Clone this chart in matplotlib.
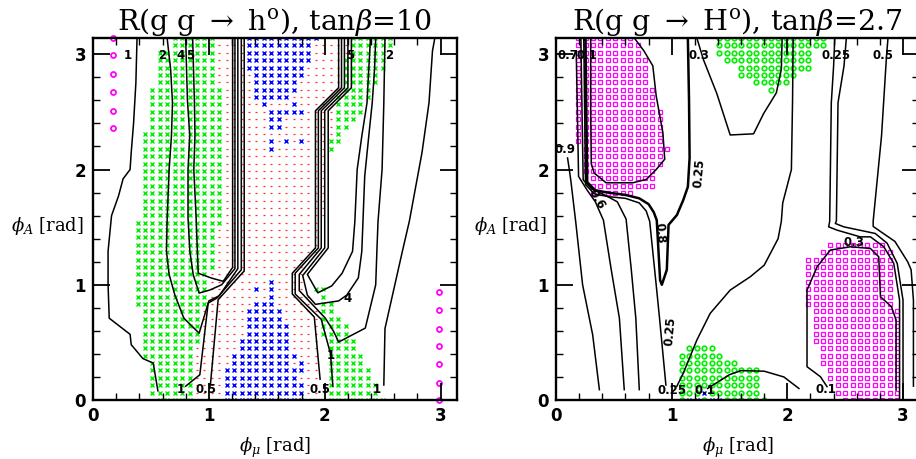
import numpy as np
import matplotlib
matplotlib.use("Agg")
import matplotlib.pyplot as plt
from matplotlib.ticker import MultipleLocator

plt.rcParams['mathtext.fontset'] = 'dejavuserif'

# scan grid step (both angles run 0..pi)
STEP = np.pi / 49

# ---------------- left panel: R(gg->h0), tanb=10 ----------------
# blocks of grid cells: (row_lo, row_hi, col_lo, col_hi)
left_green_blocks = [
    (48, 49, 11, 16), (43, 47, 9, 16), (37, 42, 8, 17), (25, 36, 7, 17),
    (24, 24, 6, 17), (18, 23, 6, 16), (13, 17, 6, 15), (8, 12, 7, 14),
    (6, 7, 7, 13), (1, 5, 8, 13), (0, 0, 9, 13),
    (48, 49, 35, 40), (47, 47, 35, 39), (45, 46, 34, 39), (43, 44, 34, 38),
    (42, 42, 34, 37), (41, 41, 33, 37), (39, 40, 33, 36), (38, 38, 33, 35),
    (37, 37, 33, 34), (36, 36, 33, 33), (35, 35, 32, 33), (34, 34, 32, 32),
    (15, 15, 30, 31), (14, 14, 31, 31), (12, 13, 31, 32), (11, 11, 31, 33),
    (9, 10, 31, 34), (7, 8, 32, 35), (5, 6, 32, 36), (3, 4, 32, 37),
    (1, 2, 32, 38), (0, 0, 32, 39),
]
left_blue_blocks = [
    (49, 49, 21, 30), (46, 48, 21, 29), (45, 45, 21, 28), (44, 44, 22, 28),
    (42, 43, 22, 27), (41, 41, 22, 26), (40, 40, 23, 23), (40, 40, 27, 27),
    (39, 39, 24, 28), (37, 38, 24, 25), (35, 35, 24, 24), (35, 35, 26, 26),
    (35, 35, 28, 28), (34, 34, 24, 24),
    (16, 16, 24, 24), (15, 15, 22, 22), (15, 15, 24, 24), (14, 14, 24, 24),
    (13, 13, 22, 24), (11, 12, 21, 25), (9, 10, 21, 26), (7, 8, 20, 26),
    (6, 6, 19, 27), (5, 5, 19, 26), (5, 5, 28, 28), (4, 4, 18, 28),
    (3, 3, 18, 27), (0, 2, 18, 28),
]
left_red_blocks = [
    (47, 49, 17, 34), (43, 46, 17, 33), (42, 42, 18, 33), (36, 41, 18, 32),
    (25, 35, 18, 31), (24, 24, 18, 30), (20, 23, 17, 30), (18, 19, 17, 28),
    (15, 17, 16, 28), (13, 14, 16, 29), (8, 12, 15, 30), (0, 7, 14, 30),
]
left_mag_x = [0.17, 0.17, 0.17, 0.17, 0.17, 0.17, 2.99, 2.99, 2.99, 2.99, 2.99, 2.99, 2.99]
left_mag_y = [3.14, 2.99, 2.83, 2.67, 2.51, 2.36, 0.94, 0.78, 0.62, 0.47, 0.31, 0.15, 0.0]

# contour lines (phi_mu, phi_A)
l_c1_outer = [(0.38, 3.14), (0.37, 2.75), (0.35, 2.4), (0.33, 2.15), (0.32, 2.0), (0.26, 1.92),
              (0.22, 1.77), (0.16, 1.60), (0.13, 1.29), (0.13, 1.0), (0.14, 0.71), (0.32, 0.57),
              (0.33, 0.48), (0.43, 0.36), (0.52, 0.32), (0.56, 0.08)]
l_c2_left = [(0.64, 3.14), (0.67, 2.87), (0.686, 2.58), (0.677, 2.29), (0.657, 2.0), (0.64, 1.57),
             (0.634, 1.29), (0.657, 1.09), (0.706, 0.913), (0.784, 0.71), (0.916, 0.58),
             (1.0, 0.86), (1.09, 0.905), (1.25, 1.14), (1.25, 3.14)]
l_c4_left = [(0.80, 3.14), (0.815, 2.6), (0.835, 2.3), (0.82, 2.0), (0.82, 1.58), (0.836, 1.29),
             (0.865, 1.087), (0.916, 0.928), (1.01, 0.955), (1.11, 1.0), (1.225, 1.14), (1.225, 3.14)]
l_c5_left = [(0.86, 3.14), (0.875, 2.6), (0.88, 2.3), (0.87, 2.0), (0.89, 1.58), (0.908, 1.10),
             (1.023, 1.058), (1.124, 1.03), (1.205, 1.15), (1.205, 3.14)]
l_c1_mid = [(0.80, 0.12), (0.922, 0.219), (0.994, 0.841), (1.07, 0.885), (1.28, 1.13), (1.28, 3.14)]
l_c05_left = [(1.014, 0.14), (1.08, 0.87), (1.305, 1.12), (1.305, 3.14)]
l_c05_right = [(2.12, 3.14), (2.12, 2.71), (1.92, 2.51), (1.92, 1.32), (1.72, 1.10), (1.72, 0.92),
               (1.91, 0.72), (1.96, 0.18)]
l_c1_right = [(2.145, 3.14), (2.145, 2.71), (1.945, 2.51), (1.945, 1.32), (1.745, 1.10),
              (1.745, 0.92), (1.97, 0.70), (2.05, 0.40), (2.07, 0.12)]
l_c2_right = [(2.17, 3.14), (2.17, 2.71), (1.97, 2.51), (1.97, 1.32), (1.78, 1.09), (1.78, 0.95),
              (2.005, 0.71), (2.077, 0.595), (2.12, 0.503), (2.35, 0.624), (2.44, 1.0),
              (2.45, 1.29), (2.46, 1.55), (2.495, 2.0), (2.51, 2.58), (2.52, 3.14)]
l_c4_right = [(2.20, 3.14), (2.20, 2.71), (2.0, 2.51), (2.0, 1.32), (1.81, 1.08), (1.85, 0.91),
              (1.92, 0.83), (2.12, 0.86), (2.19, 0.91), (2.29, 1.06), (2.32, 1.29), (2.33, 1.55),
              (2.345, 1.94), (2.38, 2.29), (2.41, 2.58), (2.43, 2.87), (2.44, 3.14)]
l_c5_right = [(2.23, 3.14), (2.23, 2.71), (2.03, 2.51), (2.03, 1.32), (1.85, 1.09), (1.94, 0.93),
              (2.06, 0.99), (2.15, 1.10), (2.24, 1.29), (2.26, 1.55), (2.28, 2.0), (2.32, 2.29),
              (2.365, 2.58), (2.38, 2.87), (2.395, 3.14)]
l_c1_far = [(2.95, 3.14), (2.93, 3.03), (2.90, 2.58), (2.84, 2.15), (2.73, 1.55), (2.67, 1.29),
            (2.52, 0.62), (2.51, 0.13)]
left_lines = [l_c1_outer, l_c2_left, l_c4_left, l_c5_left, l_c1_mid, l_c05_left,
              l_c05_right, l_c1_right, l_c2_right, l_c4_right, l_c5_right, l_c1_far]

left_lab_text = ["1", "2", "4", "5", "5", "2", "4", "1", "1", "0.5", "1", "0.5"]
left_lab_x = [0.30, 0.60, 0.755, 0.835, 2.22, 2.555, 2.20, 2.05, 2.45, 1.96, 0.755, 0.975]
left_lab_y = [2.99, 2.99, 2.99, 2.99, 2.99, 2.99, 0.88, 0.39, 0.09, 0.09, 0.09, 0.09]

# ---------------- right panel: R(gg->H0), tanb=2.7 ----------------
right_sq_blocks = [
    (49, 49, 3, 10), (47, 48, 3, 11), (43, 46, 3, 12), (40, 42, 3, 13),
    (35, 39, 3, 14), (34, 34, 4, 15), (32, 33, 4, 14), (31, 31, 4, 13),
    (29, 30, 5, 13), (28, 28, 5, 10),
    (21, 21, 37, 44), (20, 20, 36, 45), (13, 19, 34, 45), (8, 12, 35, 46),
    (5, 7, 36, 46), (3, 4, 37, 46), (1, 2, 38, 46), (0, 0, 39, 46),
]
right_green_blocks = [
    (48, 49, 22, 36), (47, 47, 22, 34), (46, 46, 23, 34), (45, 45, 25, 34),
    (44, 44, 25, 32), (43, 43, 27, 31), (42, 42, 29, 29),
    (7, 7, 18, 21), (6, 6, 17, 22), (5, 5, 17, 24), (1, 4, 17, 27), (0, 0, 17, 28),
]
right_blue_blocks = [(0, 0, 18, 19), (0, 0, 21, 22), (1, 1, 20, 20)]

r_p = [(0.10, 2.10), (0.115, 2.0), (0.13, 1.89), (0.17, 1.55), (0.23, 1.0), (0.317, 0.566), (0.375, 0.09)]
r_q = [(0.175, 3.03), (0.185, 2.5), (0.195, 1.94), (0.27, 1.82), (0.34, 1.72), (0.41, 1.56),
       (0.476, 1.14), (0.548, 0.71), (0.59, 0.09)]
r_r = [(0.215, 3.14), (0.225, 2.5), (0.235, 1.91), (0.31, 1.83), (0.42, 1.78), (0.53, 1.72),
       (0.606, 1.57), (0.65, 1.14), (0.69, 0.71), (0.72, 0.09)]
r_s = [(0.255, 3.14), (0.262, 2.5), (0.27, 1.89), (0.34, 1.82), (0.45, 1.80), (0.60, 1.78),
       (0.72, 1.75), (0.80, 1.70), (0.845, 1.63), (0.871, 1.56), (0.90, 1.04), (0.915, 1.0),
       (0.958, 1.13), (0.973, 1.52), (1.045, 1.605), (1.10, 1.735), (1.14, 1.85), (1.155, 2.1),
       (1.15, 2.6), (1.14, 3.14)]
r_s2 = [(0.24, 3.14), (0.248, 2.5), (0.255, 1.87), (0.33, 1.79), (0.45, 1.765), (0.60, 1.75),
        (0.72, 1.71), (0.78, 1.64), (0.81, 1.55), (0.866, 1.0), (0.895, 0.71), (0.95, 0.13)]
r_reg1 = [(0.30, 3.14), (0.30, 2.5), (0.305, 2.05), (0.33, 1.97), (0.433, 1.885), (0.664, 1.885),
          (0.78, 1.914), (0.866, 2.0), (0.94, 2.09), (0.924, 2.32), (0.866, 2.64), (0.837, 2.90),
          (0.76, 3.03), (0.678, 3.14)]
r_u03 = [(1.218, 3.14), (1.276, 2.95), (1.39, 2.66), (1.506, 2.30), (1.708, 2.31), (1.795, 2.486),
         (1.905, 2.666), (1.948, 2.87), (1.955, 3.14)]
r_l025 = [(2.05, 3.14), (2.045, 2.6), (2.035, 2.0), (1.96, 1.71), (1.948, 1.55), (1.92, 1.40),
          (1.80, 1.17), (1.68, 1.07), (1.506, 0.954), (1.333, 0.752), (1.218, 0.521),
          (1.10, 0.232), (1.045, 0.12)]
r_l01 = [(1.31, 0.10), (1.385, 0.147), (1.50, 0.22), (1.60, 0.255), (1.80, 0.25), (1.97, 0.20), (2.10, 0.10)]
r_a1 = [(2.41, 3.14), (2.40, 2.9), (2.38, 2.58), (2.366, 1.55), (2.357, 1.503), (2.43, 1.474),
        (2.63, 1.416), (2.718, 1.416), (2.834, 1.33), (2.92, 1.185), (2.97, 0.867), (2.97, 0.0)]
r_a2 = [(2.51, 3.14), (2.49, 2.9), (2.438, 2.58), (2.424, 1.553), (2.415, 1.532), (2.487, 1.503),
        (2.69, 1.46), (2.76, 1.445), (2.863, 1.36), (2.95, 1.185), (3.0, 0.867), (3.0, 0.0)]
r_l05 = [(2.87, 3.14), (2.857, 2.98), (2.814, 2.29), (2.742, 1.553), (2.742, 1.506), (2.93, 1.376),
         (3.04, 1.2), (3.07, 1.13), (3.09, 0.867), (3.09, 0.12)]
r_reg2 = [(2.343, 0.116), (2.286, 0.202), (2.17, 0.289), (2.17, 0.954), (2.257, 1.156),
          (2.372, 1.301), (2.545, 1.33), (2.718, 1.315), (2.79, 1.243), (2.805, 0.896),
          (2.90, 0.81), (2.94, 0.694), (2.94, 0.087)]
right_lines = [r_p, r_q, r_r, r_s2, r_reg1, r_u03, r_l025, r_l01, r_a1, r_a2, r_l05, r_reg2]

right_lab_text = ["0.7", "0.1", "0.3", "0.25", "0.5", "0.9", "0.3", "0.25", "0.1", "0.1"]
right_lab_x = [0.10, 0.265, 1.24, 2.42, 2.83, 0.08, 2.574, 1.0, 1.29, 2.33]
right_lab_y = [2.99, 2.99, 2.99, 2.99, 2.99, 2.17, 1.37, 0.08, 0.08, 0.087]
right_rot_text = ["0.6", "0.8", "0.25", "0.25"]
right_rot_x = [0.35, 0.895, 1.24, 0.99]
right_rot_y = [1.74, 1.45, 1.97, 0.60]
right_rot_ang = [-60, -85, 85, 85]


def cells(blocks, skip=()):
    xs, ys = [], []
    for j0, j1, i0, i1 in blocks:
        for j in range(j0, j1 + 1):
            for i in range(i0, i1 + 1):
                if (i, j) in skip:
                    continue
                xs.append(i * STEP)
                ys.append(j * STEP)
    return xs, ys


def cell_set(blocks):
    return {(i, j) for j0, j1, i0, i1 in blocks
            for j in range(j0, j1 + 1) for i in range(i0, i1 + 1)}


def style(ax, title):
    ax.set_xlim(0, np.pi)
    ax.set_ylim(0, np.pi)
    ax.set_xticks([0, 1, 2, 3], labels=["0", "1", "2", "3"], fontsize=12, fontweight='bold')
    ax.set_yticks([0, 1, 2, 3], labels=["0", "1", "2", "3"], fontsize=12, fontweight='bold')
    ax.xaxis.set_minor_locator(MultipleLocator(0.2))
    ax.yaxis.set_minor_locator(MultipleLocator(0.2))
    ax.tick_params(which='both', direction='in', top=True, right=True)
    ax.tick_params(which='major', length=12, width=1.3, pad=5)
    ax.tick_params(which='minor', length=5, width=1.0)
    for sp in ax.spines.values():
        sp.set_linewidth(1.7)
    ax.set_title(title, fontsize=20.5, family='DejaVu Serif', pad=4)
    ax.set_xlabel(r"$\phi_\mu$ [rad]", fontsize=13, family='DejaVu Serif', labelpad=4)
    ax.set_ylabel(r"$\phi_A$ [rad]", fontsize=13, family='DejaVu Serif', rotation=0)


fig = plt.figure(figsize=(9.16, 4.59), dpi=100)
ax1 = fig.add_axes([93 / 916, 59 / 459, 364 / 916, 362 / 459])
ax2 = fig.add_axes([556 / 916, 59 / 459, 363.4 / 916, 362 / 459])

# left panel points
blue_l = cell_set(left_blue_blocks)
rx, ry = cells(left_red_blocks, skip=blue_l)
ax1.plot(rx, ry, ls='none', marker='_', ms=1.8, mew=0.9, color='#ff3030', zorder=1)
gx, gy = cells(left_green_blocks)
ax1.plot(gx, gy, ls='none', marker='x', ms=3.4, mew=1.0, color='#00ee00', zorder=1)
bx, by = cells(left_blue_blocks)
ax1.plot(bx, by, ls='none', marker='x', ms=3.4, mew=1.0, color='#0000ff', zorder=1)
ax1.plot(left_mag_x, left_mag_y, ls='none', marker='o', ms=3.6, mew=1.3, mfc='none',
         color='#ff00ff', zorder=1, clip_on=False)
for line in left_lines:
    xs, ys = zip(*line)
    ax1.plot(xs, ys, color='black', lw=1.1, zorder=2)
for t, x, y in zip(left_lab_text, left_lab_x, left_lab_y):
    ax1.text(x, y, t, fontsize=8.5, fontweight='bold', ha='center', va='center', zorder=3)
style(ax1, r"R(g g $\rightarrow$ h$^{\rm o}$), tan$\beta$=10")

# right panel points
blue_r = cell_set(right_blue_blocks)
sx, sy = cells(right_sq_blocks)
ax2.plot(sx, sy, ls='none', marker='s', ms=3.5, mew=0.9, mfc='none', color='#ff00ff', zorder=1)
gx, gy = cells(right_green_blocks, skip=blue_r)
ax2.plot(gx, gy, ls='none', marker='o', ms=3.3, mew=1.2, mfc='none', color='#00ee00', zorder=1)
bx, by = cells(right_blue_blocks)
ax2.plot(bx, by, ls='none', marker='x', ms=3.4, mew=1.0, color='#0000ff', zorder=1)
for line in right_lines:
    xs, ys = zip(*line)
    ax2.plot(xs, ys, color='black', lw=1.1, zorder=2)
xs, ys = zip(*r_s)
ax2.plot(xs, ys, color='black', lw=1.8, zorder=2)
for t, x, y in zip(right_lab_text, right_lab_x, right_lab_y):
    ax2.text(x, y, t, fontsize=8.5, fontweight='bold', ha='center', va='center', zorder=3)
for t, x, y, a in zip(right_rot_text, right_rot_x, right_rot_y, right_rot_ang):
    ax2.text(x, y, t, fontsize=8.5, fontweight='bold', ha='center', va='center',
             rotation=a, zorder=3)
style(ax2, r"R(g g $\rightarrow$ H$^{\rm o}$), tan$\beta$=2.7")

for ax in (ax1, ax2):
    ax.yaxis.set_label_coords(-0.125, 0.45)
    ax.xaxis.set_label_coords(0.5, -0.1)

fig.savefig("out.png", dpi=100)
